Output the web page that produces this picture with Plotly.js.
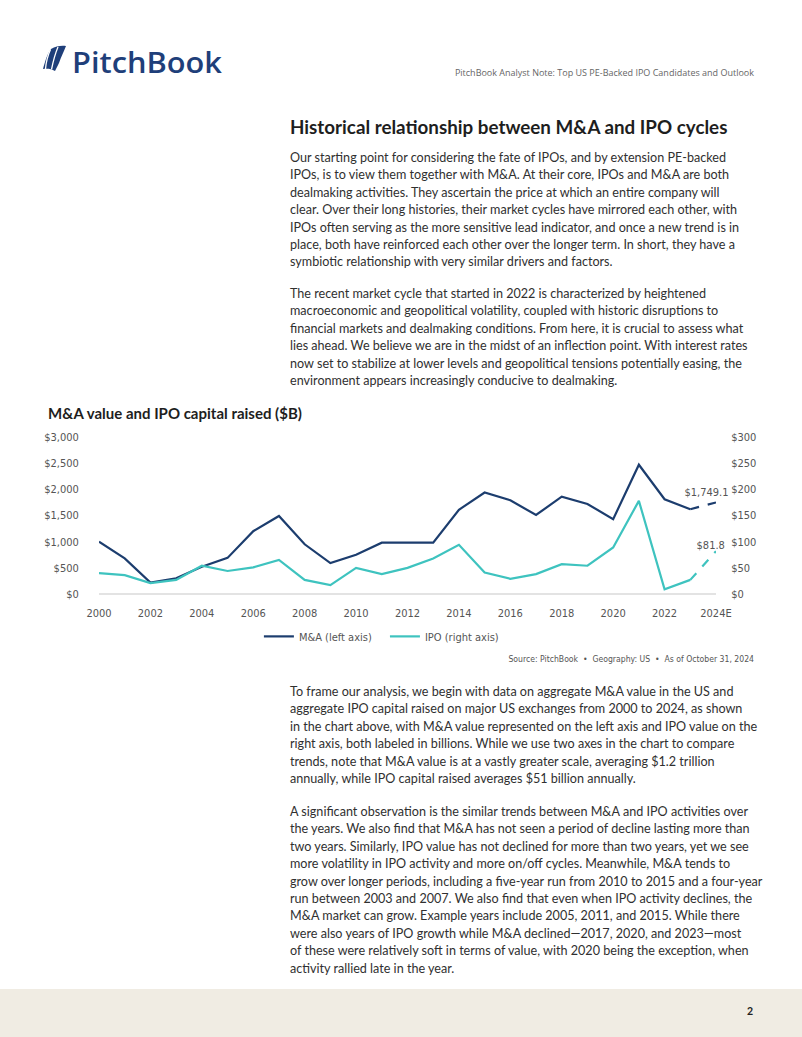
<!DOCTYPE html>
<html>
<head>
<meta charset="utf-8">
<script src="https://cdn.plot.ly/plotly-3.0.1.min.js"></script>
<style>
  html, body { margin:0; padding:0; background:#ffffff; }
  body { width:802px; height:1037px; position:relative; overflow:hidden; font-family: Lato, "Open Sans", sans-serif; color:#2e2e2e; }
  .abs { position:absolute; white-space:nowrap; }
  .para { font-size:12.6px; line-height:17.4px; color:#303030; }
  #footer { position:absolute; left:0; top:989px; width:802px; height:48px; background:#f0ece3; }
  .narrow { font-family: 'DejaVu Sans', sans-serif; font-stretch: condensed; }
  #chart text { font-stretch: condensed; }
</style>
</head>
<body>
<!-- Logo -->
<svg class="abs" style="left:36px;top:38px" width="200" height="44" viewBox="0 0 200 44">
  <path d="M7,31 C9,24 11,16 15,11 C20,8 25,7.5 30,8 C28,13 25,19 23,25 C21,29 20,31 19,33 C15,30.5 11,30.5 7,31 Z" fill="#1f3f7a"/>
  <path d="M14.5,11.5 C11.5,18 10,25 9.5,31" stroke="#ffffff" stroke-width="1.3" fill="none"/>
  <path d="M22,9 C19,16 17,24 15.5,31.5" stroke="#ffffff" stroke-width="1.3" fill="none"/>
  <text x="36" y="35" font-family="'Open Sans', sans-serif" font-weight="600" font-size="29" fill="#1f3f7a" textLength="150" lengthAdjust="spacingAndGlyphs">PitchBook</text>
</svg>
<div class="abs" style="right:48px;top:66px;font-size:9px;color:#666;font-family:'Open Sans',sans-serif;">PitchBook Analyst Note: Top US PE-Backed IPO Candidates and Outlook</div>

<div class="abs" style="left:290px;top:115px;font-size:18.8px;line-height:24px;font-weight:700;color:#1e1e1e;">Historical relationship between M&amp;A and IPO cycles</div>

<div class="abs para" style="left:290px;top:149px;">Our starting point for considering the fate of IPOs, and by extension PE-backed<br>IPOs, is to view them together with M&amp;A. At their core, IPOs and M&amp;A are both<br>dealmaking activities. They ascertain the price at which an entire company will<br>clear. Over their long histories, their market cycles have mirrored each other, with<br>IPOs often serving as the more sensitive lead indicator, and once a new trend is in<br>place, both have reinforced each other over the longer term. In short, they have a<br>symbiotic relationship with very similar drivers and factors.</div>

<div class="abs para" style="left:290px;top:285px;">The recent market cycle that started in 2022 is characterized by heightened<br>macroeconomic and geopolitical volatility, coupled with historic disruptions to<br>financial markets and dealmaking conditions. From here, it is crucial to assess what<br>lies ahead. We believe we are in the midst of an inflection point. With interest rates<br>now set to stabilize at lower levels and geopolitical tensions potentially easing, the<br>environment appears increasingly conducive to dealmaking.</div>

<div class="abs" style="left:48px;top:403px;font-size:15px;line-height:20px;font-weight:700;color:#1e1e1e;">M&amp;A value and IPO capital raised ($B)</div>

<div id="chart" class="abs" style="left:0;top:400px;width:802px;height:270px;"></div>

<div class="abs narrow" style="right:48px;top:654px;font-size:8.6px;color:#555;">Source: PitchBook &nbsp;•&nbsp; Geography: US &nbsp;•&nbsp; As of October 31, 2024</div>

<div class="abs para" style="left:290px;top:683px;">To frame our analysis, we begin with data on aggregate M&amp;A value in the US and<br>aggregate IPO capital raised on major US exchanges from 2000 to 2024, as shown<br>in the chart above, with M&amp;A value represented on the left axis and IPO value on the<br>right axis, both labeled in billions. While we use two axes in the chart to compare<br>trends, note that M&amp;A value is at a vastly greater scale, averaging $1.2 trillion<br>annually, while IPO capital raised averages $51 billion annually.</div>

<div class="abs para" style="left:290px;top:803px;">A significant observation is the similar trends between M&amp;A and IPO activities over<br>the years. We also find that M&amp;A has not seen a period of decline lasting more than<br>two years. Similarly, IPO value has not declined for more than two years, yet we see<br>more volatility in IPO activity and more on/off cycles. Meanwhile, M&amp;A tends to<br>grow over longer periods, including a five-year run from 2010 to 2015 and a four-year<br>run between 2003 and 2007. We also find that even when IPO activity declines, the<br>M&amp;A market can grow. Example years include 2005, 2011, and 2015. While there<br>were also years of IPO growth while M&amp;A declined—2017, 2020, and 2023—most<br>of these were relatively soft in terms of value, with 2020 being the exception, when<br>activity rallied late in the year.</div>

<div id="footer"></div>
<div class="abs" style="left:747px;top:1005px;font-size:10.5px;font-weight:700;color:#222;">2</div>

<script>
const years = ['2000','2001','2002','2003','2004','2005','2006','2007','2008','2009','2010','2011','2012','2013','2014','2015','2016','2017','2018','2019','2020','2021','2022','2023','2024E'];
const maValues = [1000, 680, 220, 300, 520, 690, 1200, 1490, 950, 590, 750, 980, 980, 980, 1610, 1940, 1790, 1510, 1860, 1720, 1430, 2470, 1810, 1620, 1749.1];
const ipoValues = [40, 36, 21, 27, 54, 44, 51, 65, 27, 17, 50, 38, 50, 68, 94, 41, 29, 38, 57, 54, 89, 178, 9, 27, 81.8];
const tickYears = ['2000','2002','2004','2006','2008','2010','2012','2014','2016','2018','2020','2022','2024E'];
const maTicks = [0, 500, 1000, 1500, 2000, 2500, 3000];
const ipoTicks = [0, 50, 100, 150, 200, 250, 300];

const navy = '#1c3d6e';
const teal = '#3ec3bf';
const tickFont = {family: 'DejaVu Sans, sans-serif', size: 11, color: '#555555'};
const n = years.length;
const money = v => '$' + v.toLocaleString('en-US');

const traces = [
  {x: years.slice(0, n-1), y: maValues.slice(0, n-1), name: 'M&A (left axis)', type: 'scatter', mode: 'lines', line: {color: navy, width: 2.2}, yaxis: 'y'},
  {x: years.slice(0, n-1), y: ipoValues.slice(0, n-1), name: 'IPO (right axis)', type: 'scatter', mode: 'lines', line: {color: teal, width: 2.2}, yaxis: 'y2'},
  {x: years.slice(n-2), y: maValues.slice(n-2), showlegend: false, type: 'scatter', mode: 'lines', line: {color: navy, width: 2.2, dash: 'dash'}, yaxis: 'y'},
  {x: years.slice(n-2), y: ipoValues.slice(n-2), showlegend: false, type: 'scatter', mode: 'lines', line: {color: teal, width: 2.2, dash: 'dash'}, yaxis: 'y2'}
];

const fmt = v => '$' + v.toLocaleString('en-US', {minimumFractionDigits: 1, maximumFractionDigits: 1});

const layout = {
  width: 802, height: 270,
  margin: {l: 99, r: 86, t: 37, b: 76},
  paper_bgcolor: 'rgba(0,0,0,0)', plot_bgcolor: 'rgba(0,0,0,0)',
  showlegend: true,
  legend: {orientation: 'h', x: 0.465, xanchor: 'center', y: -0.27, yanchor: 'middle', font: tickFont, itemwidth: 30, tracegroupgap: 0},
  xaxis: {type: 'category', categoryorder: 'array', categoryarray: years, range: [0, n-1], tickvals: tickYears, ticktext: tickYears,
          showgrid: false, zeroline: false, showline: false, ticks: 'outside', ticklen: 9, tickcolor: 'rgba(0,0,0,0)', tickfont: tickFont, fixedrange: true},
  yaxis: {range: [0, 3000], tickvals: maTicks, ticktext: maTicks.map(money), showgrid: false, zeroline: true, zerolinecolor: '#e3e3e3', zerolinewidth: 2,
          showline: false, ticks: 'outside', ticklen: 17, tickcolor: 'rgba(0,0,0,0)', tickfont: tickFont},
  yaxis2: {range: [0, 300], tickvals: ipoTicks, ticktext: ipoTicks.map(money), overlaying: 'y', side: 'right', showgrid: false, zeroline: false, showline: false,
          ticks: 'outside', ticklen: 12, tickcolor: 'rgba(0,0,0,0)', tickfont: tickFont},
  annotations: [
    {x: years[n-1], y: maValues[n-1], xref: 'x', yref: 'y', text: fmt(maValues[n-1]), showarrow: false, xanchor: 'center', yanchor: 'bottom', xshift: -10, yshift: 1, font: tickFont},
    {x: years[n-1], y: ipoValues[n-1], xref: 'x', yref: 'y2', text: fmt(ipoValues[n-1]), showarrow: false, xanchor: 'center', yanchor: 'bottom', xshift: -5, yshift: -3, font: tickFont}
  ]
};

Plotly.newPlot('chart', traces, layout, {displayModeBar: false, staticPlot: true});
</script>
</body>
</html>
